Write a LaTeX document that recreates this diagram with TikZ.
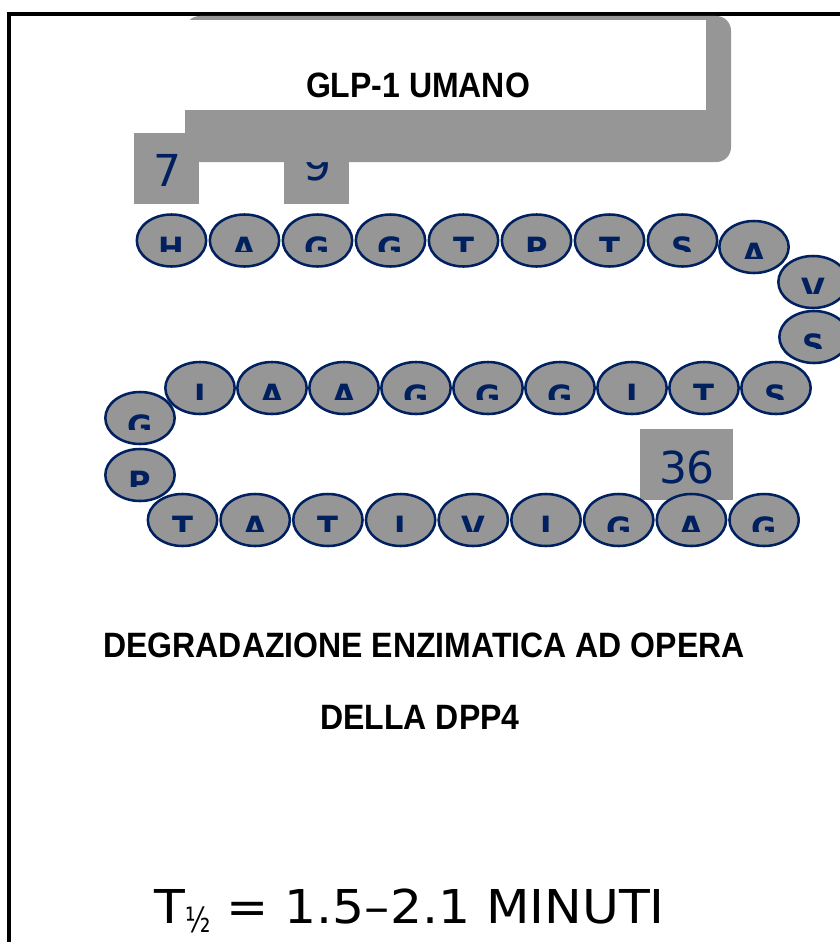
\documentclass[tikz,border=0pt]{standalone}
\usepackage{fontspec}
\setmainfont{Liberation Sans}
\newfontfamily\verdana{DejaVu Sans}
\usetikzlibrary{shapes.geometric}
\definecolor{navy}{RGB}{0,32,96}
\definecolor{greyfill}{RGB}{150,150,150}
\tikzset{
  residue/.style={ellipse, draw=navy, line width=1.9pt, fill=greyfill,
    minimum width=52pt, minimum height=39pt, inner sep=0pt},
  letter/.style={anchor=north, inner sep=0pt, text=navy,
    font=\verdana\bfseries\fontsize{23}{24}\selectfont},
  numbox/.style={fill=greyfill},
  numtext/.style={text=navy, inner sep=0pt, font=\verdana\fontsize{33}{36}\selectfont},
  title/.style={font=\bfseries\fontsize{24}{28}\selectfont, inner sep=0pt}
}
% residue: name, x, y, letter (lower part of the letter is cut off)
\newcommand{\putres}[4]{%
  \node[residue] (#1) at ({#2},{#3}) {};
  \begin{scope}
    \clip ([yshift=-8.5pt]#1.west) rectangle (#1.east |- #1.north);
    \node[letter] at ([yshift=3pt]#1.center) {#4};
  \end{scope}}
\begin{document}
\begin{tikzpicture}[x=0.75pt, y=-0.75pt]
  \useasboundingbox (0,0) rectangle (839,942);
  \draw[line width=3pt] (9,950) -- (9,14) -- (850,14);
  % position labels
  \fill[numbox] (134,133) rectangle (199,204);
  \node[numtext, anchor=base] (n7) at (167,186) {7};
  \fill[numbox] (284,133) rectangle (349,204);
  \node[numtext, anchor=base] (n9) at (317,180) {9};
  % title box
  \fill[greyfill, rounded corners=11pt] (185,16) rectangle (731,162);
  \fill[white] (185,20) rectangle (706,110);
  \node[title] (glp) at (418,85) {\scalebox{1}[1.1]{GLP-1 UMANO}};
  \fill[numbox] (640,429) rectangle (733,500);
  \node[numtext, anchor=base] (n36) at (687,483) {36};
  % chain
  \foreach \l [count=\i] in {H,A,G,G,T,P,T,S}
    {\putres{a\i}{171.5+73*(\i-1)}{240.5}{\l}}
  \putres{a9}{754}{247}{A}
  \putres{a10}{813}{282}{V}
  \putres{a11}{814}{337}{S}
  \foreach \l [count=\i] in {S,T,I,G,G,G,A,A,I}
    {\putres{b\i}{776-72*(\i-1)}{388}{\l}}
  \putres{c1}{140}{418}{G}
  \putres{c2}{140}{475}{P}
  \foreach \l [count=\i] in {T,A,T,I,V,I,G,A,G}
    {\putres{d\i}{182.5+72.7*(\i-1)}{520}{\l}}
  % captions
  \node[title] (deg) at (424,645) {\scalebox{1}[1.1]{DEGRADAZIONE ENZIMATICA AD OPERA}};
  \node[title] (dpp) at (420,717.5) {\scalebox{1}[1.1]{DELLA DPP4}};
  \node[anchor=base west, inner sep=0pt, font=\verdana\fontsize{35}{40}\selectfont] (thalf) at (154,923)
    {\scalebox{1.08}[1]{T\raisebox{-6.75pt}{\fontsize{26}{26}\selectfont\scalebox{0.7}[1]{½}} = 1.5–2.1 MINUTI}};
\end{tikzpicture}
\end{document}
